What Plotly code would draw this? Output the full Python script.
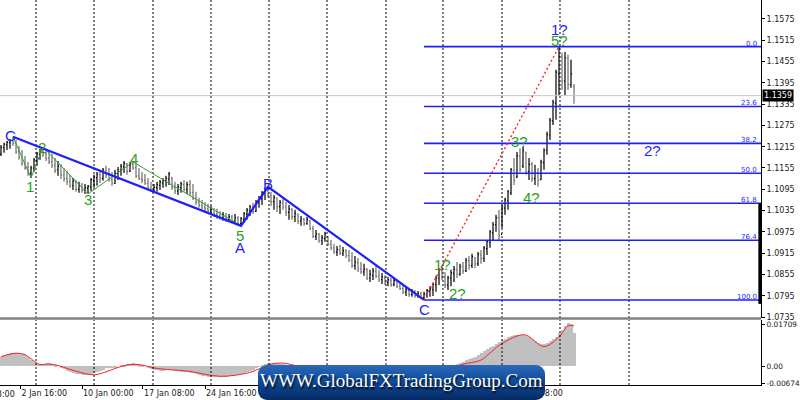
import base64
import plotly.graph_objects as go

# ---------------- data ----------------
bar_open = [1.1195, 1.1212, 1.1220, 1.1226, 1.1232, 1.1225, 1.1201, 1.1186, 1.1170, 1.1156,
            1.1140, 1.1155, 1.1176, 1.1193, 1.1204, 1.1196, 1.1183, 1.1173, 1.1163, 1.1150,
            1.1160, 1.1136, 1.1126, 1.1116, 1.1105, 1.1115, 1.1095, 1.1104, 1.1092, 1.1098,
            1.1102, 1.1120, 1.1128, 1.1136, 1.1126, 1.1148, 1.1136, 1.1122, 1.1112, 1.1140,
            1.1148, 1.1158, 1.1166, 1.1146, 1.1165, 1.1156, 1.1133, 1.1125, 1.1120, 1.1112,
            1.1098, 1.1092, 1.1100, 1.1106, 1.1113, 1.1118, 1.1124, 1.1125, 1.1100, 1.1090,
            1.1100, 1.1108, 1.1095, 1.1108, 1.1086, 1.1070, 1.1058, 1.1050, 1.1045, 1.1040,
            1.1034, 1.1038, 1.1025, 1.1020, 1.1015, 1.1020, 1.1010, 1.1016, 1.1005, 1.1012,
            1.0998, 1.1010, 1.1025, 1.1034, 1.1044, 1.1033, 1.1058, 1.1068, 1.1084, 1.1092,
            1.1078, 1.1060, 1.1070, 1.1046, 1.1056, 1.1045, 1.1030, 1.1038, 1.1018, 1.1025,
            1.1005, 1.1010, 1.0998, 1.1006, 1.0985, 1.0962, 1.0968, 1.0950, 1.0956, 1.0962,
            1.0940, 1.0930, 1.0918, 1.0924, 1.0915, 1.0920, 1.0908, 1.0895, 1.0880, 1.0888,
            1.0870, 1.0862, 1.0868, 1.0845, 1.0852, 1.0864, 1.0850, 1.0840, 1.0846, 1.0832,
            1.0838, 1.0826, 1.0836, 1.0822, 1.0815, 1.0805, 1.0810, 1.0798, 1.0806, 1.0795,
            1.0800, 1.0790, 1.0798, 1.0808, 1.0812, 1.0826, 1.0845, 1.0866, 1.0848, 1.0825,
            1.0845, 1.0858, 1.0868, 1.0856, 1.0876, 1.0865, 1.0894, 1.0880, 1.0902, 1.0885,
            1.0910, 1.0900, 1.0928, 1.0946, 1.0972, 1.0995, 1.1015, 1.0968, 1.1042, 1.1062,
            1.1085, 1.1148, 1.1130, 1.1188, 1.1160, 1.1200, 1.1145, 1.1165, 1.1125, 1.1140,
            1.1122, 1.1170, 1.1205, 1.1248, 1.1288, 1.1338, 1.1420, 1.1470, 1.1400, 1.1465,
            1.1390, 1.1385]
bar_high = [1.1220, 1.1226, 1.1231, 1.1237, 1.1243, 1.1234, 1.1217, 1.1206, 1.1189, 1.1172,
            1.1161, 1.1183, 1.1200, 1.1209, 1.1214, 1.1209, 1.1203, 1.1195, 1.1183, 1.1175,
            1.1166, 1.1155, 1.1147, 1.1136, 1.1127, 1.1121, 1.1116, 1.1113, 1.1110, 1.1107,
            1.1127, 1.1136, 1.1144, 1.1150, 1.1155, 1.1161, 1.1155, 1.1144, 1.1150, 1.1158,
            1.1166, 1.1175, 1.1169, 1.1172, 1.1172, 1.1166, 1.1155, 1.1144, 1.1138, 1.1127,
            1.1116, 1.1110, 1.1116, 1.1121, 1.1127, 1.1133, 1.1144, 1.1130, 1.1116, 1.1110,
            1.1116, 1.1121, 1.1116, 1.1121, 1.1110, 1.1088, 1.1071, 1.1065, 1.1059, 1.1054,
            1.1048, 1.1042, 1.1040, 1.1034, 1.1031, 1.1028, 1.1025, 1.1023, 1.1025, 1.1020,
            1.1017, 1.1031, 1.1042, 1.1051, 1.1057, 1.1065, 1.1076, 1.1090, 1.1099, 1.1102,
            1.1088, 1.1079, 1.1071, 1.1065, 1.1068, 1.1059, 1.1051, 1.1042, 1.1037, 1.1025,
            1.1020, 1.1014, 1.1017, 1.1009, 1.0992, 1.0980, 1.0972, 1.0966, 1.0975, 1.0963,
            1.0952, 1.0941, 1.0935, 1.0938, 1.0932, 1.0927, 1.0924, 1.0918, 1.0907, 1.0901,
            1.0890, 1.0885, 1.0873, 1.0868, 1.0873, 1.0879, 1.0868, 1.0859, 1.0853, 1.0848,
            1.0845, 1.0845, 1.0839, 1.0834, 1.0825, 1.0820, 1.0817, 1.0814, 1.0811, 1.0808,
            1.0806, 1.0806, 1.0814, 1.0822, 1.0831, 1.0851, 1.0873, 1.0882, 1.0862, 1.0851,
            1.0868, 1.0879, 1.0890, 1.0885, 1.0890, 1.0901, 1.0907, 1.0913, 1.0904, 1.0918,
            1.0924, 1.0935, 1.0952, 1.0980, 1.1003, 1.1023, 1.1037, 1.1051, 1.1071, 1.1093,
            1.1155, 1.1183, 1.1200, 1.1211, 1.1214, 1.1200, 1.1183, 1.1172, 1.1164, 1.1155,
            1.1178, 1.1211, 1.1257, 1.1296, 1.1347, 1.1432, 1.1497, 1.1480, 1.1482, 1.1474,
            1.1460, 1.1392]
bar_low = [1.1189, 1.1198, 1.1206, 1.1209, 1.1217, 1.1195, 1.1178, 1.1161, 1.1150, 1.1133,
           1.1127, 1.1144, 1.1161, 1.1178, 1.1186, 1.1175, 1.1166, 1.1155, 1.1141, 1.1133,
           1.1124, 1.1116, 1.1107, 1.1099, 1.1093, 1.1088, 1.1085, 1.1085, 1.1082, 1.1082,
           1.1090, 1.1099, 1.1105, 1.1113, 1.1119, 1.1127, 1.1116, 1.1105, 1.1110, 1.1121,
           1.1133, 1.1141, 1.1136, 1.1144, 1.1150, 1.1127, 1.1121, 1.1113, 1.1107, 1.1093,
           1.1088, 1.1085, 1.1088, 1.1093, 1.1099, 1.1102, 1.1107, 1.1093, 1.1082, 1.1079,
           1.1085, 1.1088, 1.1082, 1.1076, 1.1065, 1.1051, 1.1043, 1.1037, 1.1031, 1.1025,
           1.1023, 1.1017, 1.1011, 1.1009, 1.1006, 1.1003, 1.1003, 1.1000, 1.0997, 1.0992,
           1.0992, 1.1000, 1.1009, 1.1020, 1.1025, 1.1031, 1.1043, 1.1051, 1.1065, 1.1071,
           1.1048, 1.1037, 1.1031, 1.1025, 1.1037, 1.1020, 1.1009, 1.1009, 1.1003, 1.0997,
           1.0992, 1.0992, 1.0995, 1.0980, 1.0958, 1.0952, 1.0944, 1.0938, 1.0947, 1.0935,
           1.0924, 1.0913, 1.0907, 1.0910, 1.0907, 1.0901, 1.0890, 1.0873, 1.0868, 1.0862,
           1.0856, 1.0851, 1.0839, 1.0834, 1.0839, 1.0845, 1.0834, 1.0828, 1.0825, 1.0822,
           1.0820, 1.0822, 1.0817, 1.0811, 1.0800, 1.0794, 1.0792, 1.0792, 1.0789, 1.0789,
           1.0786, 1.0783, 1.0789, 1.0792, 1.0794, 1.0806, 1.0825, 1.0839, 1.0817, 1.0811,
           1.0822, 1.0834, 1.0845, 1.0851, 1.0856, 1.0862, 1.0868, 1.0873, 1.0873, 1.0879,
           1.0885, 1.0890, 1.0910, 1.0930, 1.0952, 1.0975, 1.0952, 1.0986, 1.1023, 1.1037,
           1.1079, 1.1107, 1.1127, 1.1144, 1.1155, 1.1136, 1.1121, 1.1116, 1.1107, 1.1102,
           1.1121, 1.1150, 1.1192, 1.1234, 1.1276, 1.1291, 1.1361, 1.1375, 1.1361, 1.1375,
           1.1381, 1.1336]
bar_close = [1.1214, 1.1222, 1.1228, 1.1232, 1.1225, 1.1200, 1.1185, 1.1168, 1.1155, 1.1140,
             1.1155, 1.1178, 1.1195, 1.1203, 1.1195, 1.1182, 1.1172, 1.1162, 1.1148, 1.1160,
             1.1135, 1.1125, 1.1115, 1.1105, 1.1118, 1.1095, 1.1105, 1.1092, 1.1100, 1.1104,
             1.1122, 1.1130, 1.1138, 1.1125, 1.1150, 1.1135, 1.1122, 1.1112, 1.1140, 1.1150,
             1.1160, 1.1168, 1.1145, 1.1166, 1.1155, 1.1132, 1.1125, 1.1120, 1.1112, 1.1098,
             1.1092, 1.1100, 1.1108, 1.1115, 1.1120, 1.1126, 1.1138, 1.1100, 1.1090, 1.1102,
             1.1110, 1.1095, 1.1108, 1.1085, 1.1070, 1.1058, 1.1050, 1.1045, 1.1040, 1.1034,
             1.1040, 1.1025, 1.1020, 1.1015, 1.1022, 1.1010, 1.1018, 1.1005, 1.1015, 1.0998,
             1.1012, 1.1026, 1.1036, 1.1045, 1.1032, 1.1060, 1.1070, 1.1085, 1.1094, 1.1078,
             1.1060, 1.1072, 1.1045, 1.1058, 1.1045, 1.1030, 1.1040, 1.1018, 1.1028, 1.1005,
             1.1012, 1.0998, 1.1010, 1.0985, 1.0962, 1.0970, 1.0950, 1.0958, 1.0970, 1.0940,
             1.0930, 1.0918, 1.0925, 1.0915, 1.0922, 1.0908, 1.0895, 1.0880, 1.0890, 1.0870,
             1.0862, 1.0870, 1.0845, 1.0855, 1.0865, 1.0850, 1.0840, 1.0848, 1.0832, 1.0840,
             1.0826, 1.0838, 1.0822, 1.0815, 1.0805, 1.0812, 1.0798, 1.0808, 1.0795, 1.0802,
             1.0790, 1.0800, 1.0810, 1.0815, 1.0828, 1.0845, 1.0868, 1.0848, 1.0825, 1.0845,
             1.0860, 1.0870, 1.0855, 1.0878, 1.0865, 1.0895, 1.0880, 1.0905, 1.0885, 1.0912,
             1.0900, 1.0930, 1.0948, 1.0975, 1.0995, 1.1015, 1.0965, 1.1045, 1.1065, 1.1088,
             1.1150, 1.1120, 1.1190, 1.1150, 1.1205, 1.1145, 1.1165, 1.1125, 1.1140, 1.1120,
             1.1172, 1.1205, 1.1250, 1.1290, 1.1340, 1.1425, 1.1470, 1.1400, 1.1465, 1.1390,
             1.1420, 1.1359]

macd_hist = [0.0040, 0.0045, 0.0050, 0.0053, 0.0055, 0.0055, 0.0053, 0.0050, 0.0045, 0.0038, 0.0028, 0.0020,
             0.0012, 0.0010, 0.0012, 0.0014, 0.0013, 0.0010, 0.0005, 0.0000, -0.0006, -0.0012, -0.0017, -0.0022,
             -0.0026, -0.0029, -0.0032, -0.0034, -0.0035, -0.0035, -0.0032, -0.0028, -0.0023, -0.0018, -0.0013, -0.0008,
             -0.0006, -0.0005, -0.0003, 0.0000, 0.0004, 0.0008, 0.0010, 0.0012, 0.0013, 0.0012, 0.0008, 0.0004,
             0.0000, -0.0005, -0.0010, -0.0014, -0.0016, -0.0017, -0.0017, -0.0016, -0.0014, -0.0015, -0.0018, -0.0020,
             -0.0021, -0.0022, -0.0023, -0.0025, -0.0028, -0.0032, -0.0035, -0.0038, -0.0040, -0.0042, -0.0043, -0.0044,
             -0.0044, -0.0044, -0.0043, -0.0042, -0.0040, -0.0038, -0.0036, -0.0034, -0.0032, -0.0028, -0.0024, -0.0019,
             -0.0014, -0.0008, -0.0002, 0.0005, 0.0011, 0.0015, 0.0016, 0.0016, 0.0014, 0.0012, 0.0010, 0.0006,
             0.0002, -0.0003, -0.0008, -0.0013, -0.0018, -0.0022, -0.0025, -0.0029, -0.0034, -0.0038, -0.0042, -0.0045,
             -0.0046, -0.0048, -0.0050, -0.0053, -0.0055, -0.0056, -0.0057, -0.0058, -0.0059, -0.0061, -0.0062, -0.0063,
             -0.0064, -0.0065, -0.0066, -0.0067, -0.0066, -0.0064, -0.0063, -0.0062, -0.0061, -0.0060, -0.0058, -0.0056,
             -0.0055, -0.0054, -0.0054, -0.0053, -0.0052, -0.0050, -0.0048, -0.0046, -0.0044, -0.0042, -0.0038, -0.0034,
             -0.0029, -0.0022, -0.0014, -0.0008, -0.0004, -0.0001, 0.0003, 0.0006, 0.0009, 0.0014, 0.0020, 0.0027,
             0.0032, 0.0036, 0.0040, 0.0045, 0.0055, 0.0064, 0.0070, 0.0078, 0.0085, 0.0092, 0.0100, 0.0106,
             0.0113, 0.0119, 0.0124, 0.0127, 0.0129, 0.0130, 0.0130, 0.0126, 0.0120, 0.0112, 0.0104, 0.0097,
             0.0092, 0.0092, 0.0097, 0.0105, 0.0113, 0.0122, 0.0135, 0.0150, 0.0165, 0.0176, 0.0172, 0.0138]

signal_bar = [0, 3, 5, 8, 11, 13, 16, 19, 23, 27, 31, 35, 39, 43, 47, 51, 57, 63, 68, 73, 78, 83,
              86, 89, 93, 96, 100, 106, 112, 120, 128, 136, 143, 148, 153, 160, 163, 166, 172,
              175, 181, 186, 189, 191]
signal_val = [0.0040, 0.0050, 0.0054, 0.0048, 0.0022, 0.0008, 0.0010, 0.0004, -0.0012, -0.0026,
              -0.0034, -0.0022, -0.0004, 0.0008, 0.0006, -0.0006, -0.0014, -0.0020, -0.0032, -0.0040,
              -0.0036, -0.0024, -0.0010, 0.0006, 0.0014, 0.0010, -0.0004, -0.0030, -0.0048, -0.0060,
              -0.0063, -0.0056, -0.0046, -0.0020, 0.0006, 0.0026, 0.0055, 0.0085, 0.0124, 0.0128,
              0.0081, 0.0120, 0.0166, 0.0165]

price_ticks = [1.0735, 1.0795, 1.0855, 1.0915, 1.0975, 1.1035, 1.1095, 1.1155,
               1.1215, 1.1275, 1.1335, 1.1395, 1.1455, 1.1515, 1.1575]
price_tick_text = ["1.0735", "1.0795", "1.0855", "1.0915", "1.0975", "1.1035", "1.1095", "1.1155",
                   "1.1215", "1.1275", "1.1335", "1.1395", "1.1455", "1.1515", "1.1575"]
top_cut_tick = 1.1635
top_cut_text = "1.1635"
macd_ticks = [0.01709, 0.0, -0.00674]
macd_tick_text = ["0.01709", "0.00", "-0.00674"]

time_tick_bar = [6.5, 27, 47.33, 68, 88.5, 109, 129.5, 150, 170.83]
time_tick_text = ["2 Jan 16:00", "10 Jan 00:00", "17 Jan 08:00", "24 Jan 16:00", "1 Feb 00:00",
                  "8 Feb 08:00", "15 Feb 16:00", "23 Feb 00:00", "2 Mar 08:00"]
cut_tick_bar = -14.17
cut_tick_text = "26 Dec 08:00"

grid_bar = [11.67, 31, 50.67, 70, 89.33, 108.67, 128.33, 147.33, 167, 186.33, 209.33]

fib_ratio = [0.0, 23.6, 38.2, 50.0, 61.8, 76.4, 100.0]
fib_low_bar = 141
fib_high_bar = 186

main_wave_bar = [4, 80, 89, 141]          # C - A - B - C
main_wave_end = ["high", "low", "high", "low"]
sub_wave_bar = [4, 10, 14, 29, 44, 80]    # C - 1 - 2 - 3 - 4 - 5
sub_wave_end = ["high", "low", "high", "low", "high", "low"]

label_text = ["C", "1", "2", "3", "4", "5", "A", "B", "C", "1?", "2?", "3?", "4?", "5?", "1?", "2?"]
label_bar = [3, 9.7, 13.7, 29, 44.3, 79.7, 79.7, 89, 141.3, 147.3, 152, 172.7, 176.7, 186, 186, 217]
label_price = [1.1248, 1.1104, 1.1212, 1.1065, 1.1183, 1.0966, 1.0932, 1.1110, 1.0755,
               1.0882, 1.0800, 1.1231, 1.1071, 1.1513, 1.1544, 1.1203]
label_degree = ["major", "minor", "minor", "minor", "minor", "minor", "major", "major", "major",
                "minor", "minor", "minor", "minor", "minor", "major", "major"]

banner_text = "WWW.GlobalFXTradingGroup.Com"

# ---------------- styling ----------------
BLUE = "#1e1eff"
GREEN = "#2e9e1a"
AX_FONT = dict(family="DejaVu Sans", size=8, color="#202020")
AX_FONT_SMALL = dict(family="DejaVu Sans", size=7.4, color="#202020")
X_RANGE = [-1 / 3, 760 / 3]
P_RANGE = [1.07322, 1.16285]
M_RANGE = [-0.00755, 0.01892]
PLOT_W = 761.0

n = len(bar_close)
idx = list(range(n))


def end_price(b, kind):
    return bar_high[b] if kind == "high" else bar_low[b]


def bar_to_paper(b):
    return (b - X_RANGE[0]) / (X_RANGE[1] - X_RANGE[0])


def price_to_paper(p):
    top = 1.0
    bot = 1 - 318 / 385
    return bot + (p - P_RANGE[0]) / (P_RANGE[1] - P_RANGE[0]) * (top - bot)


fig = go.Figure()

fig.add_trace(go.Ohlc(
    x=idx, open=bar_open, high=bar_high, low=bar_low, close=bar_close,
    increasing=dict(line=dict(color="#000000", width=1.2)),
    decreasing=dict(line=dict(color="#6e6e6e", width=1.2)),
    tickwidth=0.35, hoverinfo="skip", xaxis="x", yaxis="y"))

fig.add_trace(go.Bar(x=idx, y=macd_hist, width=1.0, marker=dict(color="#c0c0c0", line=dict(width=0)),
                     hoverinfo="skip", xaxis="x", yaxis="y2"))
fig.add_trace(go.Scatter(x=signal_bar, y=signal_val, mode="lines",
                         line=dict(color="#ff2020", width=1, shape="spline"),
                         hoverinfo="skip", xaxis="x", yaxis="y2"))

# vertical dotted separators (traces so the banner covers them)
gx, gy, gx2, gy2 = [], [], [], []
for g in grid_bar:
    gx += [g, g, None]
    gy += [P_RANGE[0], P_RANGE[1], None]
    gx2 += [g, g, None]
    gy2 += [M_RANGE[0], M_RANGE[1], None]
fig.add_trace(go.Scatter(x=gx, y=gy, mode="lines", line=dict(color="#000000", width=1, dash="2px,2px"),
                         hoverinfo="skip", xaxis="x", yaxis="y"))
fig.add_trace(go.Scatter(x=gx2, y=gy2, mode="lines", line=dict(color="#000000", width=1, dash="2px,2px"),
                         hoverinfo="skip", xaxis="x", yaxis="y2"))

# current price line
fig.add_trace(go.Scatter(x=[X_RANGE[0], X_RANGE[1]], y=[bar_close[-1], bar_close[-1]], mode="lines",
                         line=dict(color="#c8c8c8", width=1), hoverinfo="skip", xaxis="x", yaxis="y"))

# fibonacci levels
fib_hi = bar_high[fib_high_bar]
fib_lo = bar_low[fib_low_bar]
fib_levels = [fib_hi - r / 100.0 * (fib_hi - fib_lo) for r in fib_ratio]
fx, fy = [], []
for lv in fib_levels:
    fx += [fib_low_bar, X_RANGE[1], None]
    fy += [lv, lv, None]
fig.add_trace(go.Scatter(x=fx, y=fy, mode="lines", line=dict(color=BLUE, width=1.6),
                         hoverinfo="skip", xaxis="x", yaxis="y"))

# waves
fig.add_trace(go.Scatter(x=sub_wave_bar, y=[end_price(b, k) for b, k in zip(sub_wave_bar, sub_wave_end)],
                         mode="lines", line=dict(color="#33a033", width=1), hoverinfo="skip",
                         xaxis="x", yaxis="y"))
fig.add_trace(go.Scatter(x=main_wave_bar, y=[end_price(b, k) for b, k in zip(main_wave_bar, main_wave_end)],
                         mode="lines", line=dict(color=BLUE, width=2.2), hoverinfo="skip",
                         xaxis="x", yaxis="y"))
fig.add_trace(go.Scatter(x=[fib_low_bar, fib_high_bar], y=[fib_lo, fib_hi], mode="lines",
                         line=dict(color="#ff2020", width=1.4, dash="2px,2.5px"), hoverinfo="skip",
                         xaxis="x", yaxis="y"))

annotations = []
for t, b, p, d in zip(label_text, label_bar, label_price, label_degree):
    annotations.append(dict(x=b, y=p, xref="x", yref="y", text=t, showarrow=False,
                            xanchor="center", yanchor="middle",
                            font=dict(family="Liberation Sans", size=15,
                                      color=BLUE if d == "major" else GREEN)))
for r, lv in zip(fib_ratio, fib_levels):
    annotations.append(dict(x=1, y=lv, xref="paper", yref="y", text=f"{r:.1f}", showarrow=False,
                            xanchor="right", yanchor="bottom", xshift=-2, yshift=-3,
                            font=dict(family="DejaVu Sans", size=7, color=BLUE)))
annotations.append(dict(x=1, y=bar_close[-1], xref="paper", yref="y", text=f"{bar_close[-1]:.4f}",
                        showarrow=False, xanchor="left", yanchor="middle", xshift=1,
                        bgcolor="#000000", borderpad=1,
                        font=dict(family="DejaVu Sans", size=8, color="#ffffff")))
# partially visible labels at the chart edges
annotations.append(dict(x=bar_to_paper(cut_tick_bar), y=-0.0075, xref="paper", yref="paper",
                        text=cut_tick_text, showarrow=False, xanchor="left", yanchor="top", xshift=1,
                        font=AX_FONT))
annotations.append(dict(x=1, y=price_to_paper(top_cut_tick), xref="paper", yref="paper",
                        text=top_cut_text, showarrow=False, xanchor="left", yanchor="middle", xshift=3,
                        font=AX_FONT))
annotations.append(dict(x=0.5276, y=0.0104, xref="paper", yref="paper", text=banner_text,
                        showarrow=False, xanchor="center", yanchor="middle",
                        font=dict(family="Liberation Serif", size=19, color="#ffffff",
                                  shadow="1px 2px 2px #000000")))

svg = ('<svg xmlns="http://www.w3.org/2000/svg" width="287" height="35" viewBox="0 0 287 35">'
       '<defs><linearGradient id="g" x1="0" y1="0" x2="0" y2="1">'
       '<stop offset="0" stop-color="#2c69b8"/><stop offset="0.45" stop-color="#0e4c9e"/>'
       '<stop offset="1" stop-color="#062a62"/></linearGradient></defs>'
       '<rect x="0" y="0" width="287" height="35" rx="9" ry="9" fill="url(#g)"/></svg>')
svg_uri = "data:image/svg+xml;base64," + base64.b64encode(svg.encode()).decode()

shapes = [
    dict(type="line", xref="paper", yref="paper", x0=0, x1=1, y0=1 - 318.5 / 385, y1=1 - 318.5 / 385,
         line=dict(color="#808080", width=2.5), layer="above"),
    dict(type="line", xref="paper", yref="y", x0=0.9985, x1=0.9985, y0=fib_lo - 0.0011, y1=fib_levels[4],
         line=dict(color="#000000", width=3), layer="above"),
]

fig.update_layout(
    width=800, height=400, margin=dict(l=0, r=39, t=0, b=15, autoexpand=False),
    paper_bgcolor="#ffffff", plot_bgcolor="#ffffff", showlegend=False, bargap=0,
    annotations=annotations, shapes=shapes,
    images=[dict(source=svg_uri, xref="paper", yref="paper", x=258 / PLOT_W, y=1 - 365 / 385,
                 sizex=287 / PLOT_W, sizey=35 / 385, xanchor="left", yanchor="top",
                 sizing="stretch", layer="above")],
    xaxis=dict(range=X_RANGE, anchor="y2", showgrid=False, zeroline=False, showline=True,
               linecolor="#000000", linewidth=1, ticks="outside", ticklen=3, tickcolor="#000000",
               tickvals=time_tick_bar, ticktext=time_tick_text, tickfont=AX_FONT, tickangle=0,
               automargin=False, ticklabelposition="outside right",
               rangeslider=dict(visible=False), fixedrange=True),
    yaxis=dict(domain=[1 - 318 / 385, 1], range=P_RANGE, anchor="x", side="right", showgrid=False,
               zeroline=False, showline=True, linecolor="#000000", linewidth=1, ticks="outside",
               ticklen=3, tickcolor="#000000", tickvals=price_ticks, ticktext=price_tick_text,
               tickfont=AX_FONT, automargin=False, fixedrange=True),
    yaxis2=dict(domain=[0, 1 - 320 / 385], range=M_RANGE, anchor="x", side="right", showgrid=False,
                zeroline=False, showline=True, linecolor="#000000", linewidth=1, ticks="outside",
                ticklen=3, tickcolor="#000000", tickvals=macd_ticks, ticktext=macd_tick_text,
                tickfont=AX_FONT_SMALL, automargin=False, fixedrange=True),
)

fig.write_html("out.html", config={"displayModeBar": False},
               post_script="document.body.style.margin='0';document.body.style.overflow='hidden';")
